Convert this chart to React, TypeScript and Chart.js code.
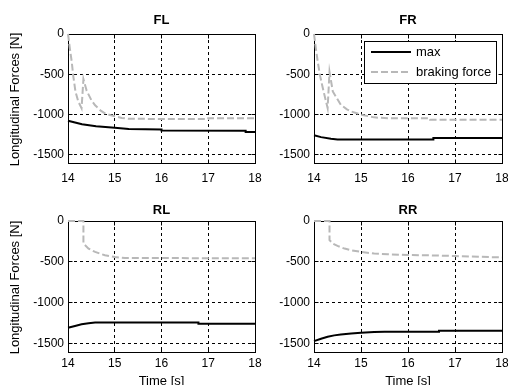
import React, { useEffect, useRef } from "react";
import { Chart, registerables } from "chart.js";

Chart.register(...registerables);

const FONT = "'Liberation Sans', Arial, Helvetica, sans-serif";

// ---- axes / labels ----
const timeTicks = [14, 15, 16, 17, 18];
const forceTicks = [0, -500, -1000, -1500];
const seriesLabels = ["max", "braking force"];
const yAxisLabel = "Longitudinal Forces [N]";
const xAxisLabel = "Time [s]";

// ---- FL ----
const flMaxTime = [14, 14.3, 14.6, 15, 15.3, 16, 16, 17.8, 17.8, 18];
const flMaxForce = [-1075, -1120, -1145, -1163, -1178, -1185, -1198, -1200, -1215, -1215];
const flBrakeTime = [14, 14.04, 14.08, 14.11, 14.16, 14.22, 14.29, 14.33, 14.4, 14.5, 14.58, 14.7, 14.79, 14.94, 15.15, 15.3, 17.0, 17.0, 18];
const flBrakeForce = [0, -180, -345, -509, -714, -837, -919, -560, -705, -820, -885, -950, -984, -1012, -1041, -1052, -1055, -1045, -1045];

// ---- FR ----
const frMaxTime = [14, 14.15, 14.36, 14.5, 16.54, 16.54, 18];
const frMaxForce = [-1255, -1279, -1300, -1308, -1308, -1290, -1290];
const frBrakeTime = [14, 14.04, 14.08, 14.13, 14.18, 14.24, 14.29, 14.33, 14.4, 14.5, 14.57, 14.7, 14.79, 15, 15.28, 15.57, 16.47, 16.47, 18];
const frBrakeForce = [0, -180, -345, -520, -652, -800, -919, -470, -713, -810, -878, -935, -960, -1001, -1034, -1046, -1046, -1063, -1063];

// ---- RL ----
const rlMaxTime = [14, 14.15, 14.29, 14.44, 14.58, 16.79, 16.79, 18];
const rlMaxForce = [-1303, -1282, -1262, -1249, -1241, -1241, -1256, -1256];
const rlBrakeTime = [14, 14.33, 14.33, 14.44, 14.58, 14.79, 15, 15.22, 18];
const rlBrakeForce = [0, 0, -275, -337, -378, -419, -440, -452, -455];

// ---- RR ----
const rrMaxTime = [14, 14.15, 14.29, 14.43, 14.57, 14.79, 15, 15.28, 15.5, 16.66, 16.66, 18];
const rrMaxForce = [-1467, -1439, -1414, -1397, -1385, -1373, -1365, -1356, -1352, -1352, -1340, -1340];
const rrBrakeTime = [14, 14.33, 14.33, 14.4, 14.5, 14.65, 14.79, 15, 15.28, 15.57, 16, 16.5, 17, 17.5, 18];
const rrBrakeForce = [0, 0, -234, -275, -304, -337, -357, -378, -398, -407, -415, -420, -428, -437, -445];

const panelTitles = ["FL", "FR", "RL", "RR"];
const panelData = [
  [flMaxTime, flMaxForce, flBrakeTime, flBrakeForce],
  [frMaxTime, frMaxForce, frBrakeTime, frBrakeForce],
  [rlMaxTime, rlMaxForce, rlBrakeTime, rlBrakeForce],
  [rrMaxTime, rrMaxForce, rrBrakeTime, rrBrakeForce],
];

// layout (positions only)
const panelLayout = [
  { left: 0, top: 0, w: 262, h: 192, yW: 68, padR: 7, xH: 29, tTop: 13.5, tBot: 7.5, xPad: 8, yTitle: true, xTitle: false, legend: false },
  { left: 262, top: 0, w: 246, h: 192, yW: 52, padR: 6, xH: 29, tTop: 13.5, tBot: 7.5, xPad: 8, yTitle: false, xTitle: false, legend: true },
  { left: 0, top: 192, w: 262, h: 193, yW: 68, padR: 7, xH: 33, tTop: 12, tBot: 4, xPad: 4, yTitle: true, xTitle: true, legend: false },
  { left: 262, top: 192, w: 246, h: 193, yW: 52, padR: 6, xH: 33, tTop: 12, tBot: 4, xPad: 4, yTitle: false, xTitle: true, legend: false },
];

const toPoints = (xs: number[], ys: number[]) => xs.map((x, i) => ({ x, y: ys[i] }));

const framePlugin = {
  id: "frame",
  beforeDatasetsDraw(chart: any) {
    const { ctx, chartArea: a } = chart;
    const al = (p: number) => Math.round(p - 0.5) + 0.5;
    ctx.save();
    ctx.setLineDash([]);
    ctx.strokeStyle = "#000";
    ctx.lineWidth = 1;
    const L = al(a.left), R = al(a.right), T = al(a.top), B = al(a.bottom);
    ctx.strokeRect(L, T, R - L, B - T);
    const xs = chart.scales.x, ys = chart.scales.y;
    ctx.beginPath();
    for (const t of timeTicks) {
      const px = al(xs.getPixelForValue(t));
      ctx.moveTo(px, T); ctx.lineTo(px, T + 4);
      ctx.moveTo(px, B); ctx.lineTo(px, B - 4);
    }
    for (const v of forceTicks) {
      const py = al(ys.getPixelForValue(v));
      ctx.moveTo(L, py); ctx.lineTo(L + 4, py);
      ctx.moveTo(R, py); ctx.lineTo(R - 4, py);
    }
    ctx.stroke();
    ctx.restore();
  },
  afterDraw(chart: any, _args: any, opts: any) {
    const { ctx, chartArea: a } = chart;
    ctx.save();
    if (opts.yTitle) {
      ctx.translate(15, (a.top + a.bottom) / 2 + 1);
      ctx.rotate(-Math.PI / 2);
      ctx.fillStyle = "#000";
      ctx.font = `13px ${FONT}`;
      ctx.textAlign = "center";
      ctx.textBaseline = "middle";
      ctx.fillText(yAxisLabel, 0, 0);
      ctx.setTransform(1, 0, 0, 1, 0, 0);
    }
    if (opts.legend) {
      const lx = Math.round(a.left) + 50, ly = Math.round(a.top) + 7, lw = 132, lh = 42;
      ctx.fillStyle = "#fff";
      ctx.fillRect(lx, ly, lw, lh);
      ctx.strokeStyle = "#000";
      ctx.lineWidth = 1;
      ctx.setLineDash([]);
      ctx.strokeRect(lx + 0.5, ly + 0.5, lw, lh);
      chart.data.datasets.forEach((ds: any, i: number) => {
        const y = ly + 11 + i * 20;
        ctx.beginPath();
        ctx.setLineDash(ds.borderDash || []);
        ctx.strokeStyle = ds.borderColor;
        ctx.lineWidth = ds.borderWidth;
        ctx.moveTo(lx + 7, y);
        ctx.lineTo(lx + 47, y);
        ctx.stroke();
        ctx.setLineDash([]);
        ctx.fillStyle = "#000";
        ctx.font = `13px ${FONT}`;
        ctx.textAlign = "left";
        ctx.textBaseline = "middle";
        ctx.fillText(ds.label, lx + 52, y);
      });
    }
    ctx.restore();
  },
};

function Panel({ idx }: { idx: number }) {
  const ref = useRef<HTMLCanvasElement | null>(null);
  const lay = panelLayout[idx];
  useEffect(() => {
    if (!ref.current) return;
    const [mt, mf, bt, bf] = panelData[idx];
    const chart = new Chart(ref.current, {
      type: "line",
      data: {
        datasets: [
          {
            label: seriesLabels[0],
            data: toPoints(mt, mf),
            borderColor: "#000000",
            borderWidth: 2,
            pointRadius: 0,
            tension: 0,
            clip: false as any,
          },
          {
            label: seriesLabels[1],
            data: toPoints(bt, bf),
            borderColor: "#b8b8b8",
            borderWidth: 2,
            borderDash: [7, 3],
            pointRadius: 0,
            tension: 0,
            clip: false as any,
          },
        ],
      },
      options: {
        animation: false,
        responsive: false,
        maintainAspectRatio: false,
        devicePixelRatio: 1,
        events: [],
        layout: { autoPadding: false, padding: { left: 0, right: lay.padR, top: 0, bottom: 0 } },
        plugins: {
          legend: { display: false },
          tooltip: { enabled: false },
          title: {
            display: true,
            text: panelTitles[idx],
            fullSize: false,
            color: "#000",
            font: { family: FONT, size: 13, weight: "bold", lineHeight: 1 },
            padding: { top: lay.tTop, bottom: lay.tBot },
          },
          frame: { yTitle: lay.yTitle, legend: lay.legend },
        } as any,
        scales: {
          x: {
            type: "linear",
            min: 14,
            max: 18,
            afterBuildTicks: (s: any) => { s.ticks = timeTicks.map((v) => ({ value: v })); },
            afterFit: (s: any) => { s.height = lay.xH; s.paddingLeft = 0; s.paddingRight = 0; },
            grid: { color: "#000", lineWidth: 1, drawTicks: false },
            border: { display: false, dash: [3, 3] },
            ticks: { padding: lay.xPad, color: "#000", font: { family: FONT, size: 12 }, maxRotation: 0, autoSkip: false, callback: (v: any) => String(v) },
            title: { display: lay.xTitle, text: xAxisLabel, color: "#000", font: { family: FONT, size: 13, lineHeight: 1 }, padding: { top: 0, bottom: -3 } },
          },
          y: {
            type: "linear",
            min: -1600,
            max: 0,
            afterBuildTicks: (s: any) => { s.ticks = forceTicks.map((v) => ({ value: v })); },
            afterFit: (s: any) => { s.width = lay.yW; s.paddingTop = 0; s.paddingBottom = 0; },
            grid: { color: "#000", lineWidth: 1, drawTicks: false },
            border: { display: false, dash: [3, 3] },
            ticks: { padding: 4, color: "#000", font: { family: FONT, size: 12 }, autoSkip: false, callback: (v: any) => String(v) },
          },
        },
      } as any,
      plugins: [framePlugin as any],
    });
    return () => chart.destroy();
  }, [idx]);
  return (
    <canvas
      ref={ref}
      width={lay.w}
      height={lay.h}
      style={{ position: "absolute", left: lay.left, top: lay.top, width: lay.w, height: lay.h }}
    />
  );
}

export default function App() {
  return (
    <div style={{ position: "fixed", left: 0, top: 0, width: 508, height: 385, background: "#fff", overflow: "hidden" }}>
      {[0, 1, 2, 3].map((i) => (
        <Panel key={i} idx={i} />
      ))}
    </div>
  );
}
